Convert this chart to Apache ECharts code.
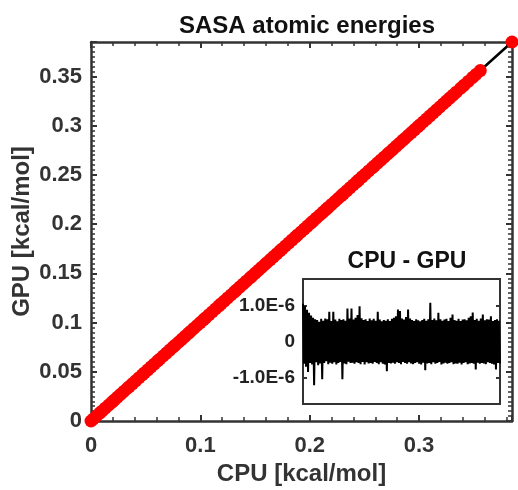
<!DOCTYPE html>
<html>
<head>
<meta charset="utf-8">
<script src="https://cdn.jsdelivr.net/npm/echarts@6/dist/echarts.min.js"></script>
<style>
  html, body { margin: 0; padding: 0; background: #fff; }
  #chart { width: 518px; height: 490px; }
</style>
</head>
<body>
<div id="chart"></div>
<script>
// Per-atom SASA energies (kcal/mol). CPU and GPU agree to ~1e-6, so the same
// values serve as both coordinates of each point.
const atomEnergies = [
  0.000, 0.002, 0.005, 0.008, 0.010, 0.013, 0.016, 0.019, 0.021, 0.024,
  0.027, 0.030, 0.033, 0.035, 0.038, 0.041, 0.044, 0.047, 0.049, 0.052,
  0.055, 0.058, 0.061, 0.063, 0.066, 0.069, 0.072, 0.075, 0.077, 0.080,
  0.083, 0.086, 0.089, 0.091, 0.094, 0.097, 0.100, 0.103, 0.105, 0.108,
  0.111, 0.114, 0.117, 0.119, 0.122, 0.125, 0.128, 0.131, 0.133, 0.136,
  0.139, 0.142, 0.145, 0.147, 0.150, 0.153, 0.156, 0.159, 0.161, 0.164,
  0.167, 0.170, 0.173, 0.175, 0.178, 0.181, 0.184, 0.187, 0.189, 0.192,
  0.195, 0.198, 0.201, 0.203, 0.206, 0.209, 0.212, 0.215, 0.217, 0.220,
  0.223, 0.226, 0.229, 0.231, 0.234, 0.237, 0.240, 0.243, 0.245, 0.248,
  0.251, 0.254, 0.257, 0.259, 0.262, 0.265, 0.268, 0.271, 0.273, 0.276,
  0.279, 0.282, 0.285, 0.287, 0.290, 0.293, 0.296, 0.299, 0.301, 0.304,
  0.307, 0.310, 0.313, 0.316, 0.319, 0.322, 0.325, 0.328, 0.331, 0.334,
  0.338, 0.341, 0.345, 0.349, 0.352, 0.356, 0.385
];

// CPU - GPU difference per atom, in units of 1e-6 kcal/mol.
const cpuGpuDiff = [
  1.05, -0.62, 0.98, -0.70, 0.88, -0.85, 0.80, -0.60, 0.72, -0.64,
  0.66, -1.22, 0.62, -0.58, 0.60, -0.66, 0.55, -0.61, 0.63, -1.05,
  0.58, -0.60, 0.64, -0.55, 0.62, -0.63, 0.83, -0.59, 0.57, -0.62,
  0.83, -0.58, 0.61, -0.64, 0.56, -0.60, 0.63, -0.57, 0.60, -1.05,
  0.62, -0.61, 0.58, -0.63, 0.92, -0.56, 0.64, -0.60, 0.92, -0.59,
  0.61, -0.62, 0.66, -0.58, 0.74, -0.60, 0.98, -0.63, 0.65, -0.57,
  0.60, -0.64, 0.62, -0.58, 0.57, -0.61, 0.64, -0.60, 0.59, -0.62,
  0.63, -0.57, 0.58, -0.60, 0.83, -0.63, 0.61, -0.58, 0.56, -0.62,
  0.60, -0.64, 0.58, -0.83, 0.62, -0.60, 0.57, -0.61, 0.63, -0.59,
  0.66, -0.62, 0.70, -0.58, 0.89, -0.60, 0.85, -0.63, 0.64, -0.57,
  0.61, -0.60, 0.68, -0.62, 0.89, -0.58, 0.64, -0.61, 0.60, -0.63,
  0.57, -0.60, 0.62, -0.58, 0.59, -0.62, 0.56, -0.64, 0.60, -0.59,
  0.63, -0.80, 0.58, -0.61, 0.62, -0.60, 1.08, -0.63, 0.60, -0.58,
  0.64, -0.62, 0.59, -0.60, 0.80, -0.57, 0.62, -0.64, 0.58, -0.61,
  0.61, -0.59, 0.63, -0.62, 0.57, -0.60, 0.66, -0.58, 0.75, -0.63,
  0.60, -0.61, 0.58, -0.62, 0.63, -0.59, 0.57, -0.64, 0.61, -0.60,
  0.62, -0.58, 0.59, -0.63, 0.66, -0.61, 0.70, -0.60, 0.81, -0.62,
  0.60, -0.78, 0.63, -0.59, 0.58, -0.62, 0.64, -0.60, 0.75, -0.61,
  0.59, -0.63, 0.62, -0.58, 0.61, -0.60, 0.70, -0.62, 0.57, -0.64,
  0.60, -0.78, 0.62, -0.60, 0.58, -0.61
];

// Labelled ticks of the inset (units of 1e-6).
const insetTicks = [-1, 0, 1];

const FONT = 'Liberation Sans, Arial, sans-serif';
const DARK = '#333';
const axisMax = 0.385;

function tickStyle() {
  return { show: true, inside: true, length: 6, lineStyle: { color: DARK, width: 2 } };
}
function minorStyle(n) {
  return { show: true, splitNumber: n, length: 4, lineStyle: { color: DARK, width: 1.5 } };
}
function frameLine() {
  return { show: true, onZero: false, lineStyle: { color: DARK, width: 2.5 } };
}
function labelStyle(margin) {
  return { margin: margin, fontFamily: FONT, fontWeight: 'bold', fontSize: 22, color: DARK, showMaxLabel: false };
}
const nameStyle = { fontFamily: FONT, fontWeight: 'bold', fontSize: 24, color: DARK };

const chart = echarts.init(document.getElementById('chart'), null, { renderer: 'canvas' });

chart.setOption({
  animation: false,
  backgroundColor: '#fff',
  title: [
    {
      text: 'SASA atomic energies',
      left: 302, top: 9, textAlign: 'center',
      textStyle: { fontFamily: FONT, fontWeight: 'bold', fontSize: 24, color: '#111' }
    },
    {
      text: 'CPU - GPU',
      left: 402, top: 245, textAlign: 'center',
      textStyle: { fontFamily: FONT, fontWeight: 'bold', fontSize: 23, color: '#111' }
    }
  ],
  grid: [
    { left: 91, right: 6, top: 42, bottom: 69, outerBoundsMode: 'none', containLabel: false },
    { left: 303, top: 279, width: 197, height: 125, show: true, outerBoundsMode: 'none',
      containLabel: false, borderColor: DARK, borderWidth: 2, backgroundColor: '#fff', z: 5 }
  ],
  xAxis: [
    {
      type: 'value', gridIndex: 0, min: 0, max: axisMax, interval: 0.1,
      name: 'CPU [kcal/mol]', nameLocation: 'middle', nameGap: 41, nameMoveOverlap: false,
      nameTextStyle: nameStyle,
      axisLine: frameLine(), axisTick: tickStyle(), minorTick: minorStyle(5),
      axisLabel: labelStyle(14), splitLine: { show: false }
    },
    {
      type: 'value', gridIndex: 0, position: 'top', min: 0, max: axisMax, interval: 0.1,
      axisLine: frameLine(), axisTick: tickStyle(), minorTick: minorStyle(5),
      axisLabel: { show: false }, splitLine: { show: false }
    },
    {
      type: 'value', gridIndex: 1, min: 0, max: cpuGpuDiff.length - 1,
      axisLine: { show: false }, axisTick: { show: false },
      axisLabel: { show: false }, splitLine: { show: false }
    }
  ],
  yAxis: [
    {
      type: 'value', gridIndex: 0, min: 0, max: axisMax, interval: 0.05,
      name: 'GPU [kcal/mol]', nameLocation: 'middle', nameGap: 57, nameMoveOverlap: false,
      nameTextStyle: nameStyle,
      axisLine: frameLine(), axisTick: tickStyle(), minorTick: minorStyle(10),
      axisLabel: labelStyle(9), splitLine: { show: false }
    },
    {
      type: 'value', gridIndex: 0, position: 'right', min: 0, max: axisMax, interval: 0.05,
      axisLine: frameLine(), axisTick: tickStyle(), minorTick: minorStyle(10),
      axisLabel: { show: false }, splitLine: { show: false }
    },
    {
      type: 'value', gridIndex: 1, min: -1.74, max: 1.74,
      axisLine: { show: false, onZero: false },
      axisTick: { show: true, inside: true, length: 4, customValues: insetTicks, lineStyle: { color: DARK, width: 2 } },
      axisLabel: {
        customValues: insetTicks, margin: 8,
        fontFamily: FONT, fontWeight: 'bold', fontSize: 19, color: '#222',
        formatter: v => (v === 0 ? '0' : v.toFixed(1) + 'E-6')
      },
      splitLine: { show: false }, z: 6
    },
    {
      type: 'value', gridIndex: 1, position: 'right', min: -1.74, max: 1.74,
      axisLine: { show: false, onZero: false },
      axisTick: { show: true, inside: true, length: 4, customValues: insetTicks, lineStyle: { color: DARK, width: 2 } },
      axisLabel: { show: false }, splitLine: { show: false }, z: 6
    }
  ],
  series: [
    {
      type: 'line', xAxisIndex: 0, yAxisIndex: 0,
      data: atomEnergies.map(e => [e, e]),
      clip: false,
      symbol: 'circle', symbolSize: 13, showAllSymbol: true,
      itemStyle: { color: '#ff0000', borderWidth: 0 },
      lineStyle: { color: '#000', width: 2.5 },
      z: 3
    },
    {
      type: 'line', xAxisIndex: 2, yAxisIndex: 2,
      data: cpuGpuDiff.map((d, i) => [i, d]),
      showSymbol: false,
      lineStyle: { color: '#000', width: 2 },
      z: 7
    }
  ]
});
</script>
</body>
</html>
